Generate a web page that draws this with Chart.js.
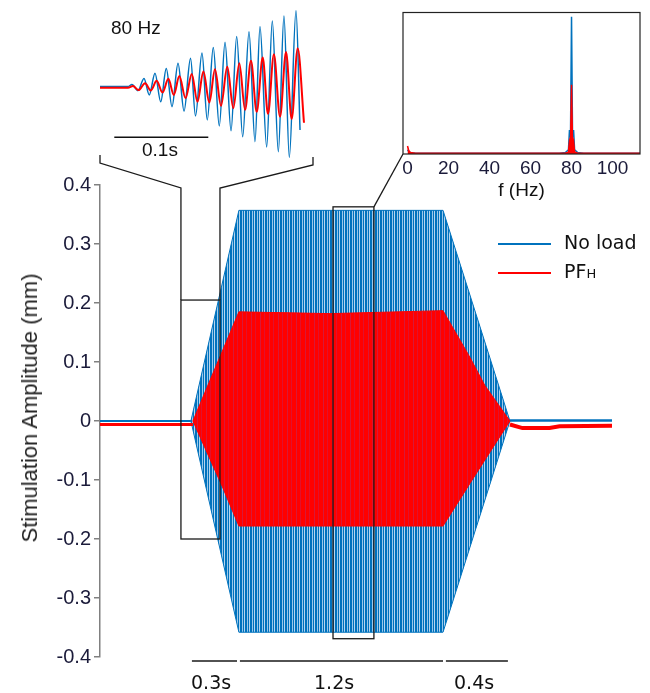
<!DOCTYPE html>
<html lang="en">
<head>
<meta charset="UTF-8">
<title>Stimulation Amplitude - 80 Hz</title>
<script src="https://cdn.jsdelivr.net/npm/chart.js"></script>
<style>
    body { margin: 0; background: #fff; font-family: "Liberation Sans", Arial, sans-serif; }
    #wrap { position: relative; width: 650px; height: 693px; overflow: hidden; }
    canvas { position: absolute; }
    #main { left: 0; top: 0; }
    #zoomInset { left: 100px; top: 6px; }
    #fftInset { left: 395px; top: 5px; }
    .lbl { position: absolute; white-space: nowrap; line-height: 1; color: #111; font-size: 19px; }
    .dv { font-family: "DejaVu Sans", Verdana, sans-serif; }
    .key { position: absolute; height: 2px; width: 53px; }
    #ytitle { position: absolute; left: 30px; top: 408px; transform: translate(-50%, -50%) rotate(-90deg);
              font-size: 22px; color: #222; white-space: nowrap; line-height: 1; }
</style>
</head>
<body>
<div id="wrap">
    <canvas id="main" width="650" height="693"></canvas>
    <canvas id="zoomInset" width="210" height="161"></canvas>
    <canvas id="fftInset" width="250" height="200"></canvas>

    <div id="ytitle">Stimulation Amplitude (mm)</div>

    <div class="lbl" style="left:111px; top:18px;">80 Hz</div>
    <div class="lbl" style="left:142px; top:140px;">0.1s</div>

    <div class="key" style="left:498px; top:243px; background:#0072BD;"></div>
    <div class="lbl dv" style="left:564px; top:233px;">No load</div>
    <div class="key" style="left:498px; top:272px; background:#ff0000;"></div>
    <div class="lbl dv" style="left:564px; top:262px;">PF<span style="font-size:13px;">H</span></div>

    <div class="lbl dv" style="left:191px; top:673px;">0.3s</div>
    <div class="lbl dv" style="left:314px; top:673px;">1.2s</div>
    <div class="lbl dv" style="left:454px; top:673px;">0.4s</div>
</div>

<script>
    // ---- main trace (time in s, amplitude in mm) ----
    const yTicks = [-0.4, -0.3, -0.2, -0.1, 0, 0.1, 0.2, 0.3, 0.4];

    // oscillation envelope, no load
    const blueEnvT   = [0.538, 0.822, 1.400, 2.030, 2.426];
    const blueEnvTop = [0.000, 0.357, 0.357, 0.357, 0.000];
    const blueEnvBot = [0.000, -0.358, -0.358, -0.358, 0.000];

    // oscillation envelope, PF_H
    const redEnvT   = [0.550, 0.645, 0.722, 0.822, 1.361, 2.030, 2.189, 2.278, 2.426];
    const redEnvTop = [0.000, 0.065, 0.117, 0.185, 0.182, 0.187, 0.108, 0.060, 0.000];
    const redEnvBot = [0.000, -0.061, -0.110, -0.178, -0.178, -0.178, -0.106, -0.066, 0.000];

    // resting baselines
    const bluePreT = [0, 0.538],  bluePreY = [0.000, 0.000];
    const bluePostT = [2.426, 3.03], bluePostY = [0.001, 0.001];
    const redPreT = [0, 0.550], redPreY = [-0.006, -0.006];
    const redPostT = [2.426, 2.50, 2.66, 2.72, 3.03];
    const redPostY = [-0.006, -0.012, -0.012, -0.009, -0.008];

    // marked windows on the main trace
    const zoomWinT = [0.479, 0.710], zoomWinY = [-0.200, 0.205];
    const fftWinT = [1.379, 1.621], fftWinY = [-0.369, 0.363];

    // phase duration bars
    const phaseStart = [0.544, 0.828, 2.047];
    const phaseEnd   = [0.811, 2.030, 2.414];

    // ---- zoomed onset (time in ms, amplitude in mm) ----
    const onsetBlueT = [0, 29.8, 34.0, 40.4, 46.8, 52.4, 58.5, 64.6, 70.5, 76.6, 83.0, 89.4, 96.3, 101.6,
        108.5, 114.1, 120.5, 126.9, 133.0, 139.4, 145.4, 151.8, 158.5, 164.9, 170.2, 177.3, 183.3,
        189.7, 195.7, 201.4, 208.5, 212.8];
    const onsetBlueY = [0, 0, 0.005, -0.010, 0.020, -0.021, 0.033, -0.038, 0.045, -0.050, 0.058, -0.061,
        0.070, -0.073, 0.083, -0.083, 0.097, -0.098, 0.110, -0.110, 0.124, -0.125, 0.136, -0.137,
        0.149, -0.150, 0.163, -0.162, 0.175, -0.176, 0.188, -0.108];
    const onsetRedT = [0, 29.8, 35.1, 41.0, 47.9, 54.1, 60.3, 66.5, 72.7, 78.5, 84.4, 91.0, 97.6, 103.7,
        110.0, 116.3, 122.3, 128.7, 135.4, 141.8, 148.2, 154.3, 160.6, 166.7, 173.1, 178.7, 185.0,
        191.5, 197.9, 203.9, 210.3, 217.0];
    const onsetRedY = [-0.003, -0.003, 0.001, -0.009, 0.008, -0.010, 0.014, -0.015, 0.019, -0.021, 0.026,
        -0.029, 0.031, -0.038, 0.037, -0.040, 0.043, -0.048, 0.049, -0.054, 0.058, -0.058, 0.064,
        -0.063, 0.072, -0.068, 0.080, -0.075, 0.086, -0.081, 0.095, -0.090];
    const scaleBarStart = 15.2, scaleBarLen = 100, scaleBarY = -0.126;

    // ---- spectrum (f in Hz, relative magnitude) ----
    const fftTicks = [0, 20, 40, 60, 80, 100];
    const fftF    = [0, 0.5, 1, 2, 4, 10, 30, 60, 74, 77, 78.5, 79, 79.5, 80, 80.5, 81, 81.5, 83, 86, 100, 114];
    const fftBlue = [0.03, 0.02, 0.012, 0.008, 0.006, 0.005, 0.005, 0.005, 0.006, 0.01, 0.03, 0.17, 0.12,
        0.97, 0.12, 0.17, 0.03, 0.01, 0.006, 0.005, 0.005];
    const fftRed  = [0.057, 0.03, 0.015, 0.008, 0.006, 0.005, 0.005, 0.005, 0.005, 0.006, 0.012, 0.09, 0.06,
        0.49, 0.06, 0.09, 0.015, 0.006, 0.005, 0.005, 0.005];

    const BLUE = '#0072BD', RED = '#ff0000';
    Chart.defaults.font.family = '"Liberation Sans", Arial, sans-serif';
    Chart.defaults.animation = false;

    const pts = (xs, ys) => xs.map((v, i) => ({ x: v, y: ys[i] }));

    // vertical stripes so the dense 80 Hz band reads like the original
    function stripes(cols) {
        const pc = document.createElement('canvas');
        pc.width = cols.length; pc.height = 1;
        const c = pc.getContext('2d');
        cols.forEach((col, i) => { c.fillStyle = col; c.fillRect(i, 0, 1, 1); });
        return c.createPattern(pc, 'repeat');
    }
    const bluePattern = stripes([BLUE, BLUE, '#9cc8ea', BLUE, '#b5d6ef']);
    const redPattern = stripes([RED, RED, RED, '#e2102c', RED, RED, RED, RED, '#d81838']);

    const line = (data, color, width, order, extra) => Object.assign({
        data: data, borderColor: color, borderWidth: width, pointRadius: 0,
        fill: false, tension: 0, order: order
    }, extra || {});

    // main chart annotations: marked windows, connectors, phase bars
    const mainMarks = {
        id: 'mainMarks',
        afterDatasetsDraw(chart) {
            const { ctx, scales: { x, y }, chartArea } = chart;
            ctx.save();
            ctx.strokeStyle = '#1a1a1a';
            ctx.lineWidth = 1.3;

            const zl = x.getPixelForValue(zoomWinT[0]), zr = x.getPixelForValue(zoomWinT[1]);
            const zt = y.getPixelForValue(zoomWinY[1]), zb = y.getPixelForValue(zoomWinY[0]);
            ctx.strokeRect(zl, zt, zr - zl, zb - zt);
            ctx.beginPath();
            ctx.moveTo(zl, zt); ctx.lineTo(zl, 188); ctx.lineTo(100, 163); ctx.lineTo(100, 155);
            ctx.moveTo(zr, zt); ctx.lineTo(zr, 188); ctx.lineTo(313, 165); ctx.lineTo(313, 157);
            ctx.stroke();

            const fl = x.getPixelForValue(fftWinT[0]), fr = x.getPixelForValue(fftWinT[1]);
            const ft = y.getPixelForValue(fftWinY[1]), fb = y.getPixelForValue(fftWinY[0]);
            ctx.strokeRect(fl, ft, fr - fl, fb - ft);
            ctx.beginPath();
            ctx.moveTo(fr, ft); ctx.lineTo(403, 154);
            ctx.stroke();

            ctx.lineWidth = 1.5;
            const by = chartArea.bottom + 4;
            ctx.beginPath();
            phaseStart.forEach((s, i) => {
                ctx.moveTo(x.getPixelForValue(s), by);
                ctx.lineTo(x.getPixelForValue(phaseEnd[i]), by);
            });
            ctx.stroke();
            ctx.restore();
        }
    };

    new Chart(document.getElementById('main'), {
        type: 'line',
        data: {
            datasets: [
                line(pts(blueEnvT, blueEnvTop), BLUE, 1, 1),
                line(pts(blueEnvT, blueEnvBot), BLUE, 1, 1, { fill: 0, backgroundColor: bluePattern }),
                line(pts(redEnvT, redEnvTop), RED, 1, 0),
                line(pts(redEnvT, redEnvBot), RED, 1, 0, { fill: 2, backgroundColor: redPattern }),
                line(pts(bluePreT, bluePreY), BLUE, 2, 1),
                line(pts(bluePostT, bluePostY), BLUE, 2.5, 1),
                line(pts(redPreT, redPreY), RED, 3, 0),
                line(pts(redPostT, redPostY), RED, 4, 0)
            ]
        },
        options: {
            responsive: false,
            devicePixelRatio: 1,
            layout: { padding: { left: 0, top: 185, right: 38, bottom: 36 } },
            plugins: { legend: { display: false }, tooltip: { enabled: false } },
            scales: {
                x: { type: 'linear', min: 0, max: 3.03, display: false },
                y: {
                    min: -0.4, max: 0.4,
                    afterFit: s => { s.width = 100; },
                    afterBuildTicks: s => { s.ticks = yTicks.map(v => ({ value: v })); },
                    grid: { drawOnChartArea: false, drawTicks: true, tickLength: 6, color: '#808080', lineWidth: 1.5 },
                    border: { display: true, color: '#808080', width: 1.5 },
                    ticks: {
                        color: '#1b1b3a', padding: 3, font: { size: 20 },
                        callback: v => String(Number(v.toFixed(1)))
                    }
                }
            }
        },
        plugins: [mainMarks]
    });

    // zoomed onset inset
    const onsetBar = {
        id: 'onsetBar',
        afterDatasetsDraw(chart) {
            const { ctx, scales: { x, y } } = chart;
            const py = y.getPixelForValue(scaleBarY);
            ctx.save();
            ctx.strokeStyle = '#111';
            ctx.lineWidth = 1.5;
            ctx.beginPath();
            ctx.moveTo(x.getPixelForValue(scaleBarStart), py);
            ctx.lineTo(x.getPixelForValue(scaleBarStart + scaleBarLen), py);
            ctx.stroke();
            ctx.restore();
        }
    };

    new Chart(document.getElementById('zoomInset'), {
        type: 'line',
        data: {
            datasets: [
                line(pts(onsetRedT, onsetRedY), RED, 2, 0, { cubicInterpolationMode: 'monotone' }),
                line(pts(onsetBlueT, onsetBlueY), BLUE, 1.5, 1, { cubicInterpolationMode: 'monotone' })
            ]
        },
        options: {
            responsive: false,
            devicePixelRatio: 1,
            layout: { padding: 0 },
            plugins: { legend: { display: false }, tooltip: { enabled: false } },
            scales: {
                x: { type: 'linear', min: 0, max: 223.4, display: false },
                y: { min: -0.2, max: 0.2, display: false }
            }
        },
        plugins: [onsetBar]
    });

    // spectrum inset
    const boxFrame = {
        id: 'boxFrame',
        afterDraw(chart) {
            const { ctx, chartArea: a } = chart;
            ctx.save();
            ctx.strokeStyle = '#222';
            ctx.lineWidth = 1.2;
            ctx.strokeRect(a.left, a.top, a.right - a.left, a.bottom - a.top);
            ctx.restore();
        }
    };

    new Chart(document.getElementById('fftInset'), {
        type: 'line',
        data: {
            datasets: [
                line(pts(fftF, fftRed), RED, 1.5, 0, { fill: 'origin', backgroundColor: RED }),
                line(pts(fftF, fftBlue), BLUE, 1.5, 1)
            ]
        },
        options: {
            responsive: false,
            devicePixelRatio: 1,
            layout: { padding: { left: 8, right: 5, top: 7.5, bottom: 0 } },
            plugins: { legend: { display: false }, tooltip: { enabled: false } },
            scales: {
                x: {
                    type: 'linear', min: -2.2, max: 113.4,
                    afterFit: s => { s.height = 51; },
                    afterBuildTicks: s => { s.ticks = fftTicks.map(v => ({ value: v })); },
                    grid: { display: false, drawTicks: false },
                    border: { display: false },
                    ticks: { color: '#1b1b3a', padding: 3, font: { size: 19 }, maxRotation: 0 },
                    title: { display: true, text: 'f (Hz)', color: '#111', font: { size: 19 }, padding: { top: 0, bottom: 2.6 } }
                },
                y: { min: 0, max: 1, display: false }
            }
        },
        plugins: [boxFrame]
    });
</script>
</body>
</html>
